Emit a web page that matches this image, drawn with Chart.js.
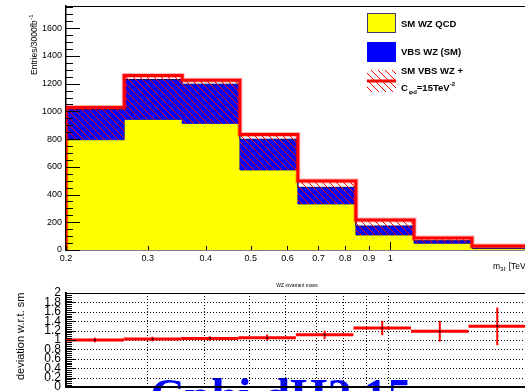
<!DOCTYPE html>
<html>
<head>
<meta charset="utf-8">
<script src="https://cdn.jsdelivr.net/npm/chart.js@4.4.1/dist/chart.umd.min.js"></script>
<style>
html, body { margin: 0; padding: 0; background: #fff; overflow: hidden; width: 525px; height: 391px; }
#top { position: absolute; left: 0; top: 0; }
#bottom { position: absolute; left: 0; top: 280px; }
</style>
</head>
<body>
<canvas id="top" width="530" height="278"></canvas>
<canvas id="bottom" width="530" height="120"></canvas>
<script>
// 8 log-spaced bins in m_3l, 0.2 - 2 TeV
const binEdges = [0.2, 0.267, 0.356, 0.474, 0.632, 0.843, 1.125, 1.5, 2.0];
const smQcd = [795, 942, 913, 577, 332, 108, 48, 10];      // SM WZ QCD
const smTotal = [1015, 1230, 1196, 799, 452, 173, 67, 14]; // QCD + VBS WZ (SM)
const bsmTotal = [1028, 1259, 1225, 833, 497, 216, 86, 29]; // QCD + VBS with Cphid=15
const ratio = [1.00, 1.02, 1.03, 1.05, 1.11, 1.255, 1.185, 1.29];
const ratioErr = [0.05, 0.05, 0.05, 0.065, 0.09, 0.155, 0.22, 0.40];

const xTickValues = [0.2, 0.3, 0.4, 0.5, 0.6, 0.7, 0.8, 0.9, 1];
const xTickLabels = ['0.2', '0.3', '0.4', '0.5', '0.6', '0.7', '0.8', '0.9', '1'];
const yTickValues = [0, 200, 400, 600, 800, 1000, 1200, 1400, 1600];
const yTickLabels = ['0', '200', '400', '600', '800', '1000', '1200', '1400', '1600'];
const ratioTickValues = [0, 0.2, 0.4, 0.6, 0.8, 1, 1.2, 1.4, 1.6, 1.8, 2];
const ratioTickLabels = ['0', '0.2', '0.4', '0.6', '0.8', '1', '1.2', '1.4', '1.6', '1.8', '2'];

const FONT = 'Liberation Sans, Arial, sans-serif';

// histogram -> points for a stepped line
function steps(vals, closed) {
    const pts = vals.map((v, i) => ({ x: binEdges[i], y: v }));
    pts.push({ x: binEdges[vals.length], y: vals[vals.length - 1] });
    if (closed) {
        pts.unshift({ x: binEdges[0], y: 0 });
        pts.push({ x: binEdges[vals.length], y: 0 });
    }
    return pts;
}

// red "\\\" hatch
function hatchPattern() {
    const c = document.createElement('canvas');
    c.width = 7; c.height = 7;
    const g = c.getContext('2d');
    g.strokeStyle = '#ff0000';
    g.lineWidth = 1;
    g.beginPath();
    g.moveTo(-1, -1); g.lineTo(8, 8);
    g.moveTo(-1, 6); g.lineTo(1, 8);
    g.moveTo(6, -1); g.lineTo(8, 1);
    g.stroke();
    return g.createPattern(c, 'repeat');
}
const hatch = hatchPattern();

function seg(ctx, x1, y1, x2, y2) {
    ctx.beginPath(); ctx.moveTo(x1, y1); ctx.lineTo(x2, y2); ctx.stroke();
}

function noPad(s) {
    s.paddingTop = 0; s.paddingBottom = 0; s.paddingLeft = 0; s.paddingRight = 0;
}

// ticks, frame, titles and legend of the upper pad
const upperDecor = {
    id: 'upperDecor',
    afterDraw(chart) {
        const { ctx, chartArea: a, scales: { x, y } } = chart;
        ctx.save();
        ctx.strokeStyle = '#000';
        ctx.lineWidth = 1;
        seg(ctx, a.left, a.top + 0.5, a.right, a.top + 0.5);
        for (let v = 0; v <= 1750; v += 50) {
            const py = Math.round(y.getPixelForValue(v)) + 0.5;
            seg(ctx, a.left, py, a.left + (v % 200 === 0 ? 14 : 7), py);
        }
        xTickValues.forEach(v => {
            const px = Math.round(x.getPixelForValue(v)) + 0.5;
            seg(ctx, px, a.bottom, px, a.bottom - (v === 1 ? 8 : 4));
        });

        // y title
        ctx.fillStyle = '#000';
        ctx.save();
        ctx.translate(37, 75);
        ctx.rotate(-Math.PI / 2);
        ctx.font = '8.5px ' + FONT;
        ctx.textBaseline = 'alphabetic';
        ctx.fillText('Entries/3000fb', 0, 0);
        const w = ctx.measureText('Entries/3000fb').width;
        ctx.font = '6px ' + FONT;
        ctx.fillText('-1', w + 0.5, -4);
        ctx.restore();

        // x title
        ctx.font = '8.5px ' + FONT;
        ctx.fillText('m', 493, 269);
        let mx = 493 + ctx.measureText('m').width;
        ctx.font = '6px ' + FONT;
        ctx.fillText('3\u2113', mx, 271);
        mx += ctx.measureText('3\u2113').width + 1;
        ctx.font = '8.5px ' + FONT;
        ctx.fillText(' [TeV]', mx, 269);

        // legend
        const lx = 367, lw = 29;
        ctx.fillStyle = '#ffff00';
        ctx.fillRect(lx, 13, lw, 20);
        ctx.strokeStyle = '#3c3c6e';
        ctx.strokeRect(lx + 0.5, 13.5, lw - 1, 19);
        ctx.fillStyle = '#0000ff';
        ctx.fillRect(lx, 42, lw, 20);
        ctx.fillStyle = hatch;
        ctx.fillRect(lx, 70, lw, 22);
        ctx.strokeStyle = '#ff0000';
        ctx.lineWidth = 3;
        seg(ctx, lx, 81, lx + lw, 81);

        ctx.fillStyle = '#000';
        ctx.textBaseline = 'middle';
        ctx.font = 'bold 9.5px ' + FONT;
        ctx.fillText('SM WZ QCD', 401, 24);
        ctx.fillText('VBS WZ (SM)', 401, 52);
        ctx.fillText('SM VBS WZ +', 401, 71);
        ctx.fillText('C', 401, 88);
        let cx = 401 + ctx.measureText('C').width + 1;
        ctx.font = 'bold 6px ' + FONT;
        ctx.fillText('\u03c6d', cx, 92);
        cx += ctx.measureText('\u03c6d').width;
        ctx.font = 'bold 9.5px ' + FONT;
        ctx.fillText('=15TeV', cx, 88);
        cx += ctx.measureText('=15TeV').width;
        ctx.font = 'bold 6px ' + FONT;
        ctx.fillText('-2', cx, 84);
        ctx.restore();
    }
};

new Chart(document.getElementById('top'), {
    type: 'line',
    data: {
        datasets: [
            { data: steps(smQcd), stepped: true, fill: 'origin', backgroundColor: '#ffff00',
              borderColor: '#3c3c5a', borderWidth: 1, pointRadius: 0, order: 5 },
            { data: steps(smTotal), stepped: true, fill: 0, backgroundColor: '#0000ff',
              borderColor: '#00006e', borderWidth: 1, pointRadius: 0, order: 4 },
            { data: steps(bsmTotal), stepped: true, fill: 0, backgroundColor: hatch,
              borderColor: 'rgba(0,0,0,0)', borderWidth: 0, pointRadius: 0, order: 3 },
            { data: steps(bsmTotal, true), stepped: true, fill: false,
              borderColor: 'rgba(255,0,0,0.3)', borderWidth: 5, pointRadius: 0, order: 2 },
            { data: steps(bsmTotal, true), stepped: true, fill: false,
              borderColor: '#ff0000', borderWidth: 3, pointRadius: 0, order: 1 }
        ]
    },
    options: {
        responsive: false,
        animation: false,
        devicePixelRatio: 1,
        layout: { padding: { top: 6, left: 0, right: 0, bottom: 0 } },
        plugins: { legend: { display: false }, tooltip: { enabled: false } },
        scales: {
            x: {
                type: 'logarithmic', min: 0.2, max: 2,
                grid: { display: false, drawTicks: false },
                border: { color: '#000', width: 1.5 },
                afterBuildTicks: s => { s.ticks = xTickValues.map(v => ({ value: v })); },
                afterFit: s => { s.height = 28; noPad(s); },
                ticks: {
                    autoSkip: false, maxRotation: 0, padding: 3, color: '#000',
                    font: { family: FONT, size: 9 },
                    callback: (v, i) => xTickLabels[i]
                }
            },
            y: {
                min: 0, max: 1760,
                grid: { display: false, drawTicks: false },
                border: { color: '#000', width: 1.5 },
                afterBuildTicks: s => { s.ticks = yTickValues.map(v => ({ value: v })); },
                afterFit: s => { s.width = 66; noPad(s); },
                ticks: {
                    padding: 4, color: '#000', font: { family: FONT, size: 9 },
                    callback: (v, i) => yTickLabels[i]
                }
            }
        }
    },
    plugins: [upperDecor]
});

// lower pad: ratio with error bars
const lowerDecor = {
    id: 'lowerDecor',
    beforeDraw(chart) {
        const { ctx } = chart;
        ctx.save();
        ctx.fillStyle = '#0000ff';
        ctx.font = 'bold 48px "Liberation Serif", serif';
        ctx.textBaseline = 'alphabetic';
        ctx.fillText('Cphi dH2 15', 150, 132);
        ctx.restore();
    },
    beforeDatasetsDraw(chart) {
        const { ctx, chartArea: a, scales: { x, y } } = chart;
        ctx.save();
        ctx.strokeStyle = '#000';
        ctx.lineWidth = 1;
        ctx.setLineDash([1, 2]);
        xTickValues.slice(1).forEach(v => {
            const px = Math.round(x.getPixelForValue(v)) + 0.5;
            seg(ctx, px, a.top, px, a.bottom);
        });
        ratioTickValues.slice(1, -1).forEach(v => {
            const py = Math.round(y.getPixelForValue(v)) + 0.5;
            seg(ctx, a.left, py, a.right, py);
        });
        ctx.setLineDash([]);
        ctx.strokeStyle = '#ff0000';
        ratio.forEach((r, i) => {
            const x0 = x.getPixelForValue(binEdges[i]);
            const x1 = x.getPixelForValue(binEdges[i + 1]);
            const xc = (x0 + x1) / 2;
            const py = y.getPixelForValue(r);
            ctx.lineWidth = 3;
            seg(ctx, x0, py, x1, py);
            ctx.lineWidth = 2;
            seg(ctx, xc, y.getPixelForValue(r - ratioErr[i]), xc, y.getPixelForValue(r + ratioErr[i]));
        });
        ctx.restore();
    },
    afterDraw(chart) {
        const { ctx, chartArea: a, scales: { y } } = chart;
        ctx.save();
        ctx.strokeStyle = '#000';
        ctx.lineWidth = 1;
        seg(ctx, a.left, a.top + 0.5, a.right, a.top + 0.5);
        for (let v = 0; v <= 2.0001; v += 0.04) {
            const py = Math.round(y.getPixelForValue(v)) + 0.5;
            const major = Math.abs(v * 5 - Math.round(v * 5)) < 1e-6;
            seg(ctx, a.left, py, a.left + (major ? 10 : 6), py);
        }
        ctx.fillStyle = '#000';
        ctx.font = '5px ' + FONT;
        ctx.textAlign = 'center';
        ctx.textBaseline = 'middle';
        ctx.fillText('WZ invariant mass', 297, 6);
        ctx.save();
        ctx.translate(24, 100);
        ctx.rotate(-Math.PI / 2);
        ctx.font = '11px ' + FONT;
        ctx.textAlign = 'left';
        ctx.textBaseline = 'alphabetic';
        ctx.fillText('deviation w.r.t. sm', 0, 0);
        ctx.restore();
        ctx.restore();
    }
};

new Chart(document.getElementById('bottom'), {
    type: 'scatter',
    data: {
        datasets: [{
            data: ratio.map((r, i) => ({ x: Math.sqrt(binEdges[i] * binEdges[i + 1]), y: r })),
            pointRadius: 1, backgroundColor: '#000', borderWidth: 0
        }]
    },
    options: {
        responsive: false,
        animation: false,
        devicePixelRatio: 1,
        layout: { padding: { top: 13, left: 0, right: 0, bottom: 0 } },
        plugins: { legend: { display: false }, tooltip: { enabled: false } },
        scales: {
            x: {
                type: 'logarithmic', min: 0.2, max: 2,
                grid: { display: false, drawTicks: false },
                border: { color: '#000', width: 2 },
                ticks: { display: false },
                afterFit: s => { s.height = 13; noPad(s); }
            },
            y: {
                min: 0, max: 2,
                grid: { display: false, drawTicks: false },
                border: { color: '#000', width: 2 },
                afterBuildTicks: s => { s.ticks = ratioTickValues.map(v => ({ value: v })); },
                afterFit: s => { s.width = 66; noPad(s); },
                ticks: {
                    autoSkip: false, padding: 5, color: '#000',
                    font: { family: '"Liberation Sans Narrow", ' + FONT, size: 12 },
                    callback: (v, i) => ratioTickLabels[i]
                }
            }
        }
    },
    plugins: [lowerDecor]
});
</script>
</body>
</html>
